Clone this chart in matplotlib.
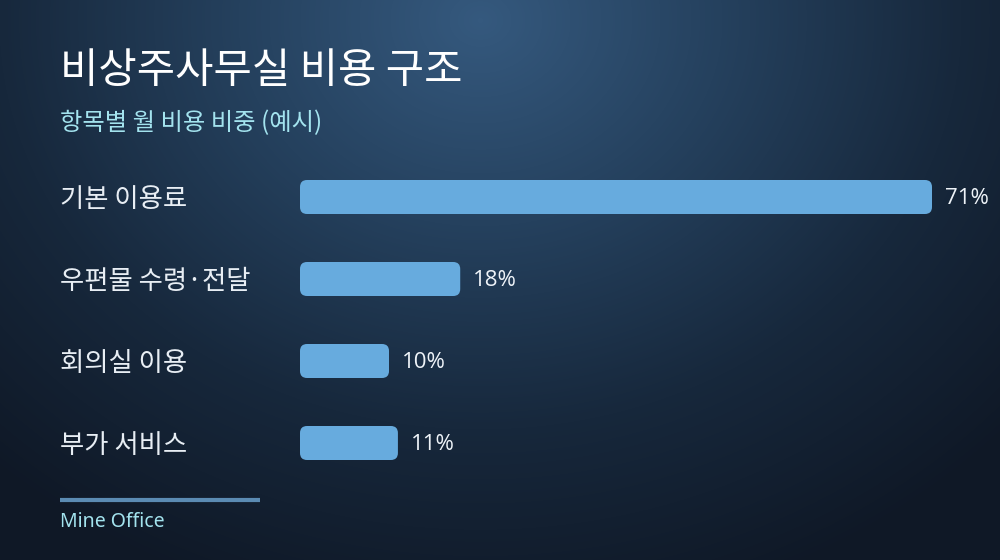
import numpy as np
import matplotlib
matplotlib.use("Agg")
import matplotlib.pyplot as plt
from matplotlib.patches import FancyBboxPatch
from matplotlib.transforms import blended_transform_factory
from matplotlib.colors import LinearSegmentedColormap

categories = ["기본 이용료", "우편물 수령·전달", "회의실 이용", "부가 서비스"]
values = [71, 18, 10, 11]
value_labels = ["71%", "18%", "10%", "11%"]
title = "비상주사무실 비용 구조"
subtitle = "항목별 월 비용 비중 (예시)"
footer = "Mine Office"

KR = ["Noto Sans CJK KR", "DejaVu Sans"]
plt.rcParams['font.family'] = KR

W, H, DPI = 1000, 560, 100
fig = plt.figure(figsize=(W / DPI, H / DPI), dpi=DPI)

# background radial gradient
bg = fig.add_axes([0, 0, 1, 1], zorder=0)
bg.set_axis_off()
yy, xx = np.mgrid[0:H, 0:W]
cx, cy = 480, 20
r = np.sqrt(((xx - cx) / 1.0) ** 2 + ((yy - cy) / 0.85) ** 2)
t = np.clip(r / 720, 0, 1)
cmap = LinearSegmentedColormap.from_list("bg", ["#35597e", "#25415e", "#17283c", "#0f1826"], N=256)
bg.imshow(t, cmap=cmap, extent=[0, W, H, 0], aspect="auto", interpolation="bilinear")
bg.set_xlim(0, W)
bg.set_ylim(H, 0)

# main axes
left_px, right_px = 300, 932
top_px, bot_px = 156, 484
ax = fig.add_axes([left_px / W, 1 - bot_px / H, (right_px - left_px) / W, (bot_px - top_px) / H], zorder=1)
ax.set_axis_off()
ax.patch.set_alpha(0)
ypos = np.arange(len(categories))
bars = ax.barh(ypos, values, height=34 / 82, color="#67abde")
ax.set_xlim(0, max(values))
ax.set_ylim(len(categories) - 0.5, -0.5)

# rounded bars
xpx_per_unit = (right_px - left_px) / max(values)
ypx_per_unit = 82.0
aspect = xpx_per_unit / ypx_per_unit
rad_px = 7
for b in bars:
    x0, y0, w, h = b.get_x(), b.get_y(), b.get_width(), b.get_height()
    b.set_visible(False)
    p = FancyBboxPatch((x0, y0), w, h,
                       boxstyle=f"round,pad=0,rounding_size={rad_px / xpx_per_unit}",
                       mutation_aspect=aspect, facecolor="#67abde", edgecolor="none")
    ax.add_patch(p)

trans = blended_transform_factory(fig.transFigure, ax.transData)
for i, (c, v, lab) in enumerate(zip(categories, values, value_labels)):
    ax.text(60 / W, i + 0.03, c, transform=trans, ha="left", va="center",
            fontsize=19, color="#e8eef4", family=KR)
    ax.annotate(lab, xy=(v, i), xytext=(13, -2), textcoords="offset pixels",
                ha="left", va="center", fontsize=16, color="#eef3f8",
                family=["Open Sans", "DejaVu Sans"])

fig.text(60 / W, 1 - 72 / H, title, ha="left", va="center", fontsize=30,
         color="#ffffff", family=KR)
fig.text(60 / W, 1 - 123 / H, subtitle, ha="left", va="center", fontsize=17.5,
         color="#a3e3ee", family=KR)

bg.plot([60, 260], [500, 500], color="#5b8bb3", lw=3, solid_capstyle="butt")
fig.text(60 / W, 1 - 522 / H, footer, ha="left", va="center", fontsize=14,
         color="#a3e3ee", family=["Noto Sans", "DejaVu Sans"])

fig.savefig("out.png", dpi=DPI)
